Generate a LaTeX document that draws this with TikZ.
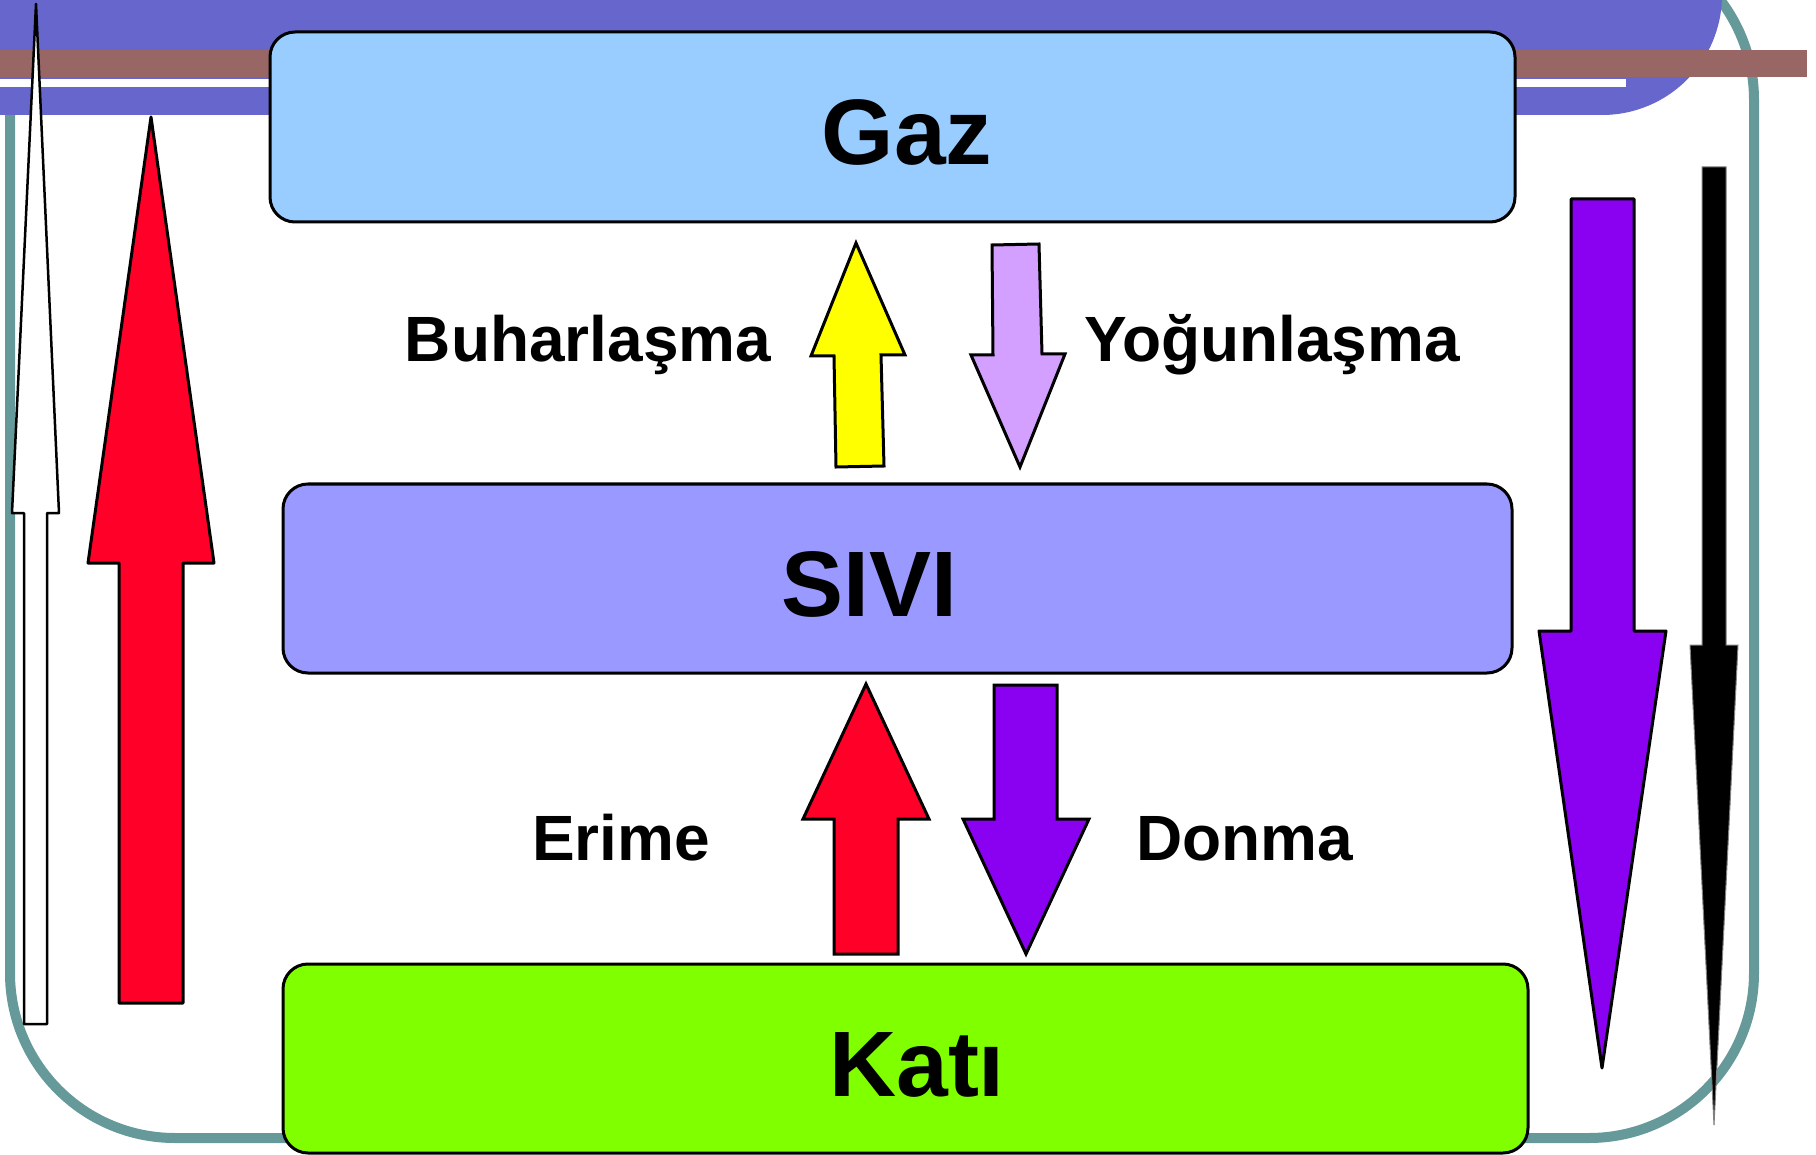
\documentclass[tikz,border=0pt]{standalone}
\usepackage{fontspec}
\setmainfont{Liberation Sans}
\definecolor{frameteal}{HTML}{669999}
\definecolor{bandblue}{HTML}{6666CC}
\definecolor{bandbrown}{HTML}{996666}
\definecolor{gazfill}{HTML}{99CCFF}
\definecolor{sivifill}{HTML}{9999FF}
\definecolor{katifill}{HTML}{80FF00}
\definecolor{arrowyellow}{HTML}{FFFF00}
\definecolor{arrowlilac}{HTML}{D4A0FF}
\definecolor{arrowred}{HTML}{FF0028}
\definecolor{arrowpurple}{HTML}{8A00F0}
\tikzset{
  statebox/.style={draw=black, line width=3pt, rounded corners=25pt, inner sep=0pt},
  statetext/.style={anchor=base, inner sep=0pt, font=\fontsize{93}{93}\selectfont\bfseries},
  proctext/.style={anchor=base, inner sep=0pt, font=\fontsize{64}{64}\selectfont\bfseries},
  blockarrow/.style={draw=black, line width=3pt, line join=miter},
  thinarrow/.style={draw=black, line width=2.5pt, line join=round}
}
\begin{document}
\begin{tikzpicture}[x=1pt, y=-1pt]
\useasboundingbox (0,0) rectangle (1816,1155);
\clip (0,0) rectangle (1816,1155);
\fill[white] (0,0) rectangle (1816,1155);

% outer frame
\draw[frameteal, line width=10pt, rounded corners=165pt] (10,-65) rectangle (1754,1138);

% title bands
\fill[bandblue, rounded corners=120pt] (-300,-300) rectangle (1722,115);
\fill[bandbrown] (-10,50) rectangle (1807,77);
\fill[white] (-10,79) rectangle (1626,87);

% state boxes
\node[statebox, fill=gazfill, minimum width=1245pt, minimum height=190pt] (gaz) at (892.5,127) {};
\node[statebox, fill=sivifill, minimum width=1229pt, minimum height=189pt] (sivi) at (897.5,578.5) {};
\node[statebox, fill=katifill, minimum width=1245pt, minimum height=189pt] (kati) at (905.5,1058.5) {};

% Buharlaşma / Yoğunlaşma arrows
\draw[blockarrow, fill=arrowyellow] (856,243) -- (905,355) -- (881,355) -- (884,466)
  -- (836,467) -- (834,356) -- (811,356) -- cycle;
\draw[blockarrow, fill=arrowlilac] (992,245) -- (1039,244) -- (1042,354) -- (1065,354)
  -- (1020,467) -- (971,355) -- (993,355) -- cycle;

% Erime / Donma arrows
\draw[blockarrow, fill=arrowred] (866,684) -- (929,819) -- (898,819) -- (898,954)
  -- (834,954) -- (834,819) -- (803,819) -- cycle;
\draw[blockarrow, fill=arrowpurple] (994,685) -- (1057,685) -- (1057,819) -- (1089,819)
  -- (1026,954) -- (963,819) -- (994,819) -- cycle;

% long side arrows
\draw[thinarrow, fill=white] (36,4) -- (59,513) -- (47,513) -- (47,1024)
  -- (24,1024) -- (24,513) -- (12,513) -- cycle;
\draw[blockarrow, line join=round, fill=arrowred] (151,117) -- (214,563) -- (183,563) -- (183,1003)
  -- (119,1003) -- (119,563) -- (88,563) -- cycle;
\draw[blockarrow, line join=round, fill=arrowpurple] (1571,199) -- (1634,199) -- (1634,631) -- (1666,631)
  -- (1602,1068) -- (1539,631) -- (1571,631) -- cycle;
\draw[draw=gray, line width=1pt, fill=black] (1702,167) -- (1726,167) -- (1726,645) -- (1738,645)
  -- (1714,1125) -- (1690,645) -- (1702,645) -- cycle;

% labels
\node[statetext] (gaztxt) at (907,165) {Gaz};
\node[statetext] (sivitxt) at (869,616) {SIVI};
\node[statetext] (katitxt) at (917,1096) {Katı};
\node[proctext] (buhar) at (588,362) {Buharlaşma};
\node[proctext] (yogun) at (1272,362) {Yoğunlaşma};
\node[proctext] (erime) at (621,860) {Erime};
\node[proctext] (donma) at (1245,860) {Donma};
\end{tikzpicture}
\end{document}
